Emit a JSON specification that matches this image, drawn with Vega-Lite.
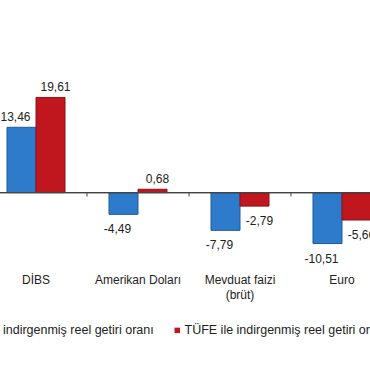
{
  "$schema": "https://vega.github.io/schema/vega-lite/v6.json",
  "width": 370,
  "height": 260,
  "autosize": {"type": "none"},
  "padding": {"left": 0, "top": 0, "right": 0, "bottom": 115},
  "config": {
    "view": {"stroke": null},
    "font": "Liberation Sans",
    "locale": {"number": {"decimal": ",", "thousands": ".", "grouping": [3], "currency": ["", ""], "minus": "-"}}
  },
  "data": {
    "values": [
      {"cat": "DİBS", "s": "ÜFE ile indirgenmiş reel getiri oranı", "v": 13.46},
      {"cat": "DİBS", "s": "TÜFE ile indirgenmiş reel getiri oranı", "v": 19.61},
      {"cat": "Amerikan Doları", "s": "ÜFE ile indirgenmiş reel getiri oranı", "v": -4.49},
      {"cat": "Amerikan Doları", "s": "TÜFE ile indirgenmiş reel getiri oranı", "v": 0.68},
      {"cat": "Mevduat faizi (brüt)", "s": "ÜFE ile indirgenmiş reel getiri oranı", "v": -7.79},
      {"cat": "Mevduat faizi (brüt)", "s": "TÜFE ile indirgenmiş reel getiri oranı", "v": -2.79},
      {"cat": "Euro", "s": "ÜFE ile indirgenmiş reel getiri oranı", "v": -10.51},
      {"cat": "Euro", "s": "TÜFE ile indirgenmiş reel getiri oranı", "v": -5.66}
    ]
  },
  "layer": [
    {
      "mark": {"type": "bar", "strokeWidth": 1},
      "encoding": {
        "x": {
          "field": "cat", "type": "nominal",
          "sort": ["DİBS", "Amerikan Doları", "Mevduat faizi (brüt)", "Euro"],
          "scale": {"range": [-15, 393], "paddingInner": 0, "paddingOuter": 0},
          "axis": {
            "title": null, "domain": false, "ticks": false, "labelPadding": 14,
            "labelFontSize": 12, "labelColor": "#222222", "labelAngle": 0,
            "labelLineHeight": 15,
            "labelExpr": "datum.label == 'Mevduat faizi (brüt)' ? ['Mevduat faizi', '(brüt)'] : datum.label"
          }
        },
        "xOffset": {
          "field": "s", "type": "nominal",
          "sort": ["ÜFE ile indirgenmiş reel getiri oranı", "TÜFE ile indirgenmiş reel getiri oranı"],
          "scale": {"paddingInner": 0, "paddingOuter": 0.7586}
        },
        "y": {
          "field": "v", "type": "quantitative",
          "scale": {"domain": [-13.9, 39.7], "nice": false},
          "axis": null
        },
        "color": {
          "field": "s", "type": "nominal",
          "scale": {
            "domain": ["ÜFE ile indirgenmiş reel getiri oranı", "TÜFE ile indirgenmiş reel getiri oranı"],
            "range": ["#2E7BCB", "#C0161E"]
          },
          "legend": {
            "title": null, "orient": "none", "legendX": -55, "legendY": 324,
            "direction": "horizontal", "symbolType": "square", "symbolSize": 30,
            "labelFontSize": 12.5, "labelOffset": 1, "columnPadding": 17, "padding": 0,
            "labelColor": "#222222", "symbolStrokeWidth": 0, "labelLimit": 300
          }
        },
        "stroke": {
          "field": "s", "type": "nominal",
          "scale": {
            "domain": ["ÜFE ile indirgenmiş reel getiri oranı", "TÜFE ile indirgenmiş reel getiri oranı"],
            "range": ["#1F5C9A", "#8B1016"]
          },
          "legend": null
        }
      }
    },
    {
      "mark": {"type": "rule", "color": "#444444", "strokeWidth": 1},
      "encoding": {
        "y": {"datum": 0, "type": "quantitative", "axis": null}
      }
    },
    {
      "transform": [{"filter": "datum.s == 'ÜFE ile indirgenmiş reel getiri oranı'"}],
      "mark": {"type": "rule", "color": "#444444", "strokeWidth": 1},
      "encoding": {
        "x": {"field": "cat", "type": "nominal", "bandPosition": 0,
              "sort": ["DİBS", "Amerikan Doları", "Mevduat faizi (brüt)", "Euro"]},
        "y": {"datum": 0, "type": "quantitative", "axis": null},
        "y2": {"datum": -0.8}
      }
    },
    {
      "mark": {
        "type": "text", "fontSize": 12, "color": "#222222", "baseline": "middle",
        "dx": {"expr": "datum['s'] == 'TÜFE ile indirgenmiş reel getiri oranı' ? 5 : -6"},
        "dy": {"expr": "datum['v'] < 0 ? 15 : -10"}
      },
      "encoding": {
        "x": {"field": "cat", "type": "nominal",
              "sort": ["DİBS", "Amerikan Doları", "Mevduat faizi (brüt)", "Euro"]},
        "xOffset": {
          "field": "s", "type": "nominal",
          "sort": ["ÜFE ile indirgenmiş reel getiri oranı", "TÜFE ile indirgenmiş reel getiri oranı"]
        },
        "y": {"field": "v", "type": "quantitative", "axis": null},
        "text": {"field": "v", "type": "quantitative", "format": ".2f"}
      }
    }
  ]
}
